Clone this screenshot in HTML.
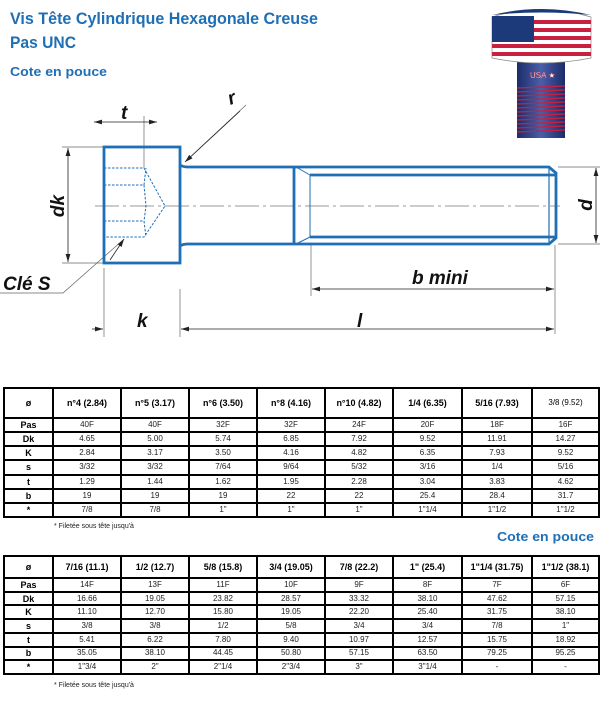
<!DOCTYPE html>
<html><head><meta charset="utf-8">
<style>
html,body{margin:0;padding:0;background:#fff;width:600px;height:703px;overflow:hidden;position:relative;font-family:"Liberation Sans",Arial,sans-serif}
svg{position:absolute;left:0;top:0}
table{position:absolute;left:3px;border-collapse:collapse;table-layout:fixed;width:595px;border:2px solid #000}
td{border:2px solid #000;text-align:center;font-size:8px;color:#222;padding:0;line-height:10px;overflow:hidden;white-space:nowrap}
td:first-child{font-weight:bold;font-size:9px;color:#000}
tr.h td{font-weight:bold;font-size:9px;color:#000}
.fn{position:absolute;font-size:7px;color:#222;left:54px}
</style></head><body>
<svg width="600" height="703" viewBox="0 0 600 703" font-family="Liberation Sans, Arial, sans-serif">
<defs>
<marker id="a" viewBox="0 0 10 6" refX="10" refY="3" markerWidth="8" markerHeight="5" orient="auto-start-reverse" markerUnits="userSpaceOnUse"><path d="M0,0L10,3L0,6z" fill="#222"/></marker>
<linearGradient id="sh" x1="0" x2="1"><stop offset="0" stop-color="#1c2c6a"/><stop offset=".5" stop-color="#4a5fa8"/><stop offset="1" stop-color="#1c2c6a"/></linearGradient>
</defs>
<g fill="#1f6fb5" font-weight="bold">
<text x="10" y="24" font-size="17" textLength="308" lengthAdjust="spacingAndGlyphs">Vis Tête Cylindrique Hexagonale Creuse</text>
<text x="10" y="48" font-size="17" textLength="66" lengthAdjust="spacingAndGlyphs">Pas UNC</text>
<text x="10" y="76" font-size="13" textLength="97" lengthAdjust="spacingAndGlyphs">Cote en pouce</text>
<text x="497" y="541" font-size="13" textLength="97" lengthAdjust="spacingAndGlyphs">Cote en pouce</text>
</g>
<rect x="517" y="62" width="48" height="76" fill="url(#sh)"/>
<g stroke="#c8203e" stroke-width="1.3">
<line x1="517" y1="88" x2="565" y2="86"/><line x1="517" y1="92" x2="565" y2="90"/><line x1="517" y1="96" x2="565" y2="94"/><line x1="517" y1="100" x2="565" y2="98"/><line x1="517" y1="104" x2="565" y2="102"/><line x1="517" y1="108" x2="565" y2="106"/><line x1="517" y1="112" x2="565" y2="110"/><line x1="517" y1="116" x2="565" y2="114"/><line x1="517" y1="120" x2="565" y2="118"/><line x1="517" y1="124" x2="565" y2="122"/><line x1="517" y1="128" x2="565" y2="126"/><line x1="517" y1="132" x2="565" y2="130"/>
</g>
<text x="530" y="78" font-size="8" fill="#fff" stroke="#c8203e" stroke-width=".3">USA ★</text>
<path d="M492,17 Q541,2 591,17 L591,58 Q541,68 492,58 Z" fill="#fff" stroke="#888" stroke-width=".7"/>
<g fill="#c8203e">
<rect x="492" y="20" width="99" height="4"/><rect x="492" y="28" width="99" height="4"/><rect x="492" y="36" width="99" height="4"/><rect x="492" y="44" width="99" height="4"/><rect x="492" y="52" width="99" height="4"/>
</g>
<rect x="492" y="16" width="42" height="26" fill="#1c3a7a"/>
<path d="M492,15 Q541,3 591,15 Q541,10 492,15Z" fill="#1c3a7a"/>
<g stroke="#999" stroke-width="1" fill="none">
<line x1="95" y1="206" x2="560" y2="206" stroke-dasharray="24,4,3,4"/>
</g>
<g stroke="#666" stroke-width=".7" fill="none">
<line x1="144" y1="116" x2="144" y2="168"/>
<line x1="62" y1="147" x2="104" y2="147"/><line x1="62" y1="263" x2="104" y2="263"/>
<line x1="558" y1="167" x2="600" y2="167"/><line x1="558" y1="244" x2="600" y2="244"/>
<line x1="311" y1="245" x2="311" y2="296"/>
<line x1="555" y1="245" x2="555" y2="334"/>
<line x1="104" y1="268" x2="104" y2="337"/><line x1="180" y1="289" x2="180" y2="337"/>
<polyline points="0,293 63,293 123,240"/>
<line x1="246" y1="105" x2="186" y2="161"/>
</g>
<g stroke="#222" stroke-width=".8" fill="none">
<line x1="94" y1="122" x2="157" y2="122" marker-start="url(#a)" marker-end="url(#a)"/>
<line x1="68" y1="148" x2="68" y2="262" marker-start="url(#a)" marker-end="url(#a)"/>
<line x1="596" y1="168" x2="596" y2="243" marker-start="url(#a)" marker-end="url(#a)"/>
<line x1="312" y1="289" x2="554" y2="289" marker-start="url(#a)" marker-end="url(#a)"/>
<line x1="181" y1="329" x2="554" y2="329" marker-start="url(#a)" marker-end="url(#a)"/>
<line x1="92" y1="329" x2="103" y2="329" marker-end="url(#a)"/>
<line x1="240" y1="111" x2="185" y2="162" marker-end="url(#a)"/>
<line x1="110" y1="260" x2="124" y2="239" marker-end="url(#a)"/>
</g>
<g stroke="#1f6fb5" stroke-width="2.8" fill="none">
<rect x="104" y="147" width="76" height="116"/>
<path d="M180,165 Q183,167 188,167 L549,167 L556,173 L556,238 L549,244 L188,244 Q183,244 180,246"/>
<line x1="294" y1="167" x2="294" y2="244"/>
<line x1="310" y1="175" x2="556" y2="175"/><line x1="310" y1="237" x2="556" y2="237"/>
<line x1="549" y1="167" x2="549" y2="244" stroke-width="1.2"/>
</g>
<g stroke="#1f6fb5" stroke-width="1" fill="none">
<line x1="310" y1="175" x2="310" y2="237"/>
<line x1="296" y1="167" x2="310" y2="175"/><line x1="296" y1="244" x2="310" y2="237"/>
</g>
<g stroke="#1f6fb5" stroke-width="1" fill="none" stroke-dasharray="2.5,1.5">
<polyline points="104,168 144,168 165,206 144,237 104,237"/>
<polyline points="104,185 144,185 146,168"/>
<polyline points="104,221 144,221 146,237"/>
<polyline points="144,185 146,206 144,221"/>
</g>
<g font-style="italic" font-weight="bold" fill="#111" font-size="19">
<text x="121" y="119">t</text>
<text x="228" y="104" transform="rotate(-20 232 98)">r</text>
<text transform="translate(64 206) rotate(-90)" text-anchor="middle">dk</text>
<text transform="translate(592 205) rotate(-90)" text-anchor="middle">d</text>
<text x="3" y="290">Clé S</text>
<text x="412" y="284">b mini</text>
<text x="137" y="327">k</text>
<text x="357" y="327">l</text>
</g>
</svg>

<table style="top:387px;height:131px">
<colgroup><col style="width:49px"><col style="width:68px"><col style="width:68px"><col style="width:68px"><col style="width:68px"><col style="width:68px"><col style="width:69px"><col style="width:70px"><col style="width:67px"></colgroup>
<tr class="h" style="height:30px"><td>ø</td><td>n°4 (2.84)</td><td>n°5 (3.17)</td><td>n°6 (3.50)</td><td>n°8 (4.16)</td><td>n°10 (4.82)</td><td>1/4 (6.35)</td><td>5/16 (7.93)</td><td style="font-weight:normal;font-size:8px">3/8 (9.52)</td></tr>
<tr><td>Pas</td><td>40F</td><td>40F</td><td>32F</td><td>32F</td><td>24F</td><td>20F</td><td>18F</td><td>16F</td></tr>
<tr><td>Dk</td><td>4.65</td><td>5.00</td><td>5.74</td><td>6.85</td><td>7.92</td><td>9.52</td><td>11.91</td><td>14.27</td></tr>
<tr><td>K</td><td>2.84</td><td>3.17</td><td>3.50</td><td>4.16</td><td>4.82</td><td>6.35</td><td>7.93</td><td>9.52</td></tr>
<tr><td>s</td><td>3/32</td><td>3/32</td><td>7/64</td><td>9/64</td><td>5/32</td><td>3/16</td><td>1/4</td><td>5/16</td></tr>
<tr><td>t</td><td>1.29</td><td>1.44</td><td>1.62</td><td>1.95</td><td>2.28</td><td>3.04</td><td>3.83</td><td>4.62</td></tr>
<tr><td>b</td><td>19</td><td>19</td><td>19</td><td>22</td><td>22</td><td>25.4</td><td>28.4</td><td>31.7</td></tr>
<tr><td>*</td><td>7/8</td><td>7/8</td><td>1"</td><td>1"</td><td>1"</td><td>1"1/4</td><td>1"1/2</td><td>1"1/2</td></tr>
</table>
<div class="fn" style="top:523px">* Filetée sous tête jusqu'à</div>

<table style="top:555px;height:120px">
<colgroup><col style="width:49px"><col style="width:68px"><col style="width:68px"><col style="width:68px"><col style="width:68px"><col style="width:68px"><col style="width:69px"><col style="width:70px"><col style="width:67px"></colgroup>
<tr class="h" style="height:22px"><td>ø</td><td>7/16 (11.1)</td><td>1/2 (12.7)</td><td>5/8 (15.8)</td><td>3/4 (19.05)</td><td>7/8 (22.2)</td><td>1" (25.4)</td><td>1"1/4 (31.75)</td><td>1"1/2 (38.1)</td></tr>
<tr><td>Pas</td><td>14F</td><td>13F</td><td>11F</td><td>10F</td><td>9F</td><td>8F</td><td>7F</td><td>6F</td></tr>
<tr><td>Dk</td><td>16.66</td><td>19.05</td><td>23.82</td><td>28.57</td><td>33.32</td><td>38.10</td><td>47.62</td><td>57.15</td></tr>
<tr><td>K</td><td>11.10</td><td>12.70</td><td>15.80</td><td>19.05</td><td>22.20</td><td>25.40</td><td>31.75</td><td>38.10</td></tr>
<tr><td>s</td><td>3/8</td><td>3/8</td><td>1/2</td><td>5/8</td><td>3/4</td><td>3/4</td><td>7/8</td><td>1"</td></tr>
<tr><td>t</td><td>5.41</td><td>6.22</td><td>7.80</td><td>9.40</td><td>10.97</td><td>12.57</td><td>15.75</td><td>18.92</td></tr>
<tr><td>b</td><td>35.05</td><td>38.10</td><td>44.45</td><td>50.80</td><td>57.15</td><td>63.50</td><td>79.25</td><td>95.25</td></tr>
<tr><td>*</td><td>1"3/4</td><td>2"</td><td>2"1/4</td><td>2"3/4</td><td>3"</td><td>3"1/4</td><td>-</td><td>-</td></tr>
</table>
<div class="fn" style="top:682px">* Filetée sous tête jusqu'à</div>
</body></html>
